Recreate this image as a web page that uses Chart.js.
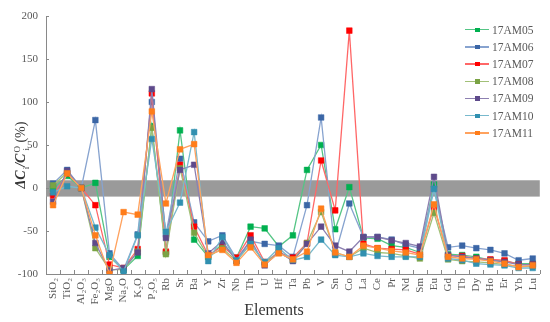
<!DOCTYPE html>
<html>
<head>
<meta charset="utf-8">
<script src="https://cdn.jsdelivr.net/npm/chart.js@4"></script>
<style>
  body { margin: 0; background: #fff; }
  #wrap { position: relative; width: 550px; height: 322px; font-family: "Liberation Serif", "Times New Roman", serif; color: #595959; }
  #c { position: absolute; left: 0; top: 0; }
  #xt { position: absolute; left: 224px; width: 100px; top: 301px; text-align: center; font-size: 16px; color: #333; }
  #yt { position: absolute; left: -29px; top: 145px; width: 100px; text-align: center; font-size: 14px; color: #333;
        transform: rotate(-90deg); transform-origin: 50% 50%; line-height: 20px; white-space: nowrap; }
  #yt i { font-weight: bold; }
  #yt .st { display: inline-flex; flex-direction: column; vertical-align: middle; font-size: 9px; line-height: 9px; margin-left: 1px; }
  #leg { position: absolute; left: 465px; top: 21px; font-size: 11.5px; }
  .row { display: flex; align-items: center; height: 17.2px; }
  .sw { position: relative; width: 24px; height: 10px; margin-right: 3px; }
  .sw .ln { position: absolute; left: 0; right: 0; top: 4.5px; height: 1.3px; }
  .sw .mk { position: absolute; left: 10px; top: 3px; width: 4.5px; height: 4.5px; }
</style>
</head>
<body>
<div id="wrap">
  <canvas id="c" width="550" height="322"></canvas>
  <div id="yt"><i>ΔC</i><span class="st"><span>&nbsp;</span><span>i</span></span><i>/C</i><span class="st"><span>O</span><span>i</span></span>&nbsp;(%)</div>
  <div id="xt">Elements</div>
  <div id="leg"></div>
</div>
<script>
const elements = ["SiO₂", "TiO₂", "Al₂O₃", "Fe₂O₃", "MgO", "Na₂O", "K₂O", "P₂O₅", "Rb", "Sr", "Ba", "Y", "Zr", "Nb",
  "Th", "U", "Hf", "Ta", "Pb", "V", "Sn", "Co", "La", "Ce", "Pr", "Nd", "Sm", "Eu", "Gd", "Tb", "Dy", "Ho", "Er", "Yb", "Lu"];

const am05 = [-1, 14, 0, 6, -80, -95, -79, 72, -75, 67, -60, -80, -65, -81, -45, -47, -68, -55, 21, 50,
  -48, 1, -58, -59, -67, -69, -75, 4, -77, -78, -80, -84, -85, -88, -88];
const am06 = [5, 21, 0, 79, -76, -95, -54, 100, -54, 34, -40, -62, -55, -82, -62, -65, -67, -80, -20, 82,
  -77, -18, -57, -57, -60, -66, -70, -1, -69, -67, -70, -72, -76, -84, -82];
const am07 = [-9, 17, 0, -20, -89, -93, -71, 110, -74, 27, -45, -78, -68, -81, -55, -86, -75, -81, -64, 32,
  -26, 183, -65, -70, -71, -72, -77, -22, -79, -79, -82, -83, -84, -89, -89];
const am08 = [3, 18, 0, -70, -95, -95, -74, 70, -77, 23, -52, -80, -70, -85, -65, -87, -75, -84, -64, -28,
  -75, -80, -70, -75, -76, -79, -82, -29, -83, -85, -86, -87, -89, -91, -91];
const am09 = [-16, 20, 0, -64, -96, -93, -75, 115, -58, 21, 27, -76, -62, -85, -60, -90, -74, -85, -65, -45,
  -67, -74, -57, -57, -61, -64, -68, 13, -78, -80, -82, -84, -86, -89, -89];
const am10 = [-5, 2, 0, -46, -78, -97, -55, 57, -51, -17, 65, -85, -57, -84, -65, -86, -70, -84, -80, -60,
  -78, -80, -76, -79, -80, -80, -80, -1, -82, -84, -88, -89, -90, -93, -93];
const am11 = [-20, 17, 0, -55, -100, -28, -31, 89, -18, 45, 51, -78, -72, -87, -69, -89, -76, -83, -74, -24,
  -75, -80, -67, -70, -73, -75, -78, -19, -80, -82, -83, -85, -88, -92, -90];

const yTicks = [-100, -50, 0, 50, 100, 150, 200];
const band = [-10, 9];

const series = [
  { label: "17AM05", data: am05, mark: "#00b050", line: "#55c585" },
  { label: "17AM06", data: am06, mark: "#3b66a6", line: "#87a3cf" },
  { label: "17AM07", data: am07, mark: "#ff0000", line: "#ff6767" },
  { label: "17AM08", data: am08, mark: "#7aa344", line: "#a2c078" },
  { label: "17AM09", data: am09, mark: "#5e4a8b", line: "#8d80b1" },
  { label: "17AM10", data: am10, mark: "#3190b0", line: "#78b9cd" },
  { label: "17AM11", data: am11, mark: "#ff7d1a", line: "#ffa25e" },
];

const AXIS = "#898989";
const tickFont = { family: "Liberation Serif", size: 11 };

// grey +-10 % band behind the lines
const bandPlugin = {
  id: "band",
  beforeDatasetsDraw(chart) {
    const { ctx, chartArea: a, scales: { y } } = chart;
    const t = y.getPixelForValue(band[1]), b = y.getPixelForValue(band[0]);
    ctx.save();
    ctx.fillStyle = "#9a9a9a";
    ctx.fillRect(a.left, t, a.right - a.left, b - t);
    ctx.restore();
  },
};

// short inward tick marks like the original
const tickPlugin = {
  id: "inTicks",
  afterDraw(chart) {
    const { ctx, chartArea: a, scales: { x, y } } = chart;
    const step = x.getPixelForValue(1) - x.getPixelForValue(0);
    ctx.save();
    ctx.strokeStyle = AXIS;
    ctx.lineWidth = 1;
    ctx.beginPath();
    for (let i = 0; i <= elements.length; i++) {
      const px = Math.round(x.getPixelForValue(0) - step / 2 + i * step) + 0.5;
      ctx.moveTo(px, a.bottom);
      ctx.lineTo(px, a.bottom - 4);
    }
    yTicks.forEach((v) => {
      const py = Math.round(y.getPixelForValue(v)) + 0.5;
      ctx.moveTo(a.left, py);
      ctx.lineTo(a.left + 3, py);
    });
    ctx.stroke();
    ctx.restore();
  },
};

new Chart(document.getElementById("c"), {
  type: "line",
  data: {
    labels: elements,
    datasets: series.map((s, i) => ({
      label: s.label, data: s.data, order: series.length - i,
      borderColor: s.line, borderWidth: 1.3, tension: 0,
      pointStyle: "rect", pointRadius: 4, pointHoverRadius: 4,
      pointBackgroundColor: s.mark, pointBorderColor: s.mark, pointBorderWidth: 0.5,
    })),
  },
  options: {
    responsive: false, animation: false, devicePixelRatio: 1,
    layout: { padding: { top: 16, right: 4, left: 0, bottom: 0 } },
    plugins: { legend: { display: false }, tooltip: { enabled: false } },
    scales: {
      x: {
        offset: true,
        grid: { display: false, drawTicks: false },
        border: { display: true, color: AXIS },
        ticks: { autoSkip: false, minRotation: 90, maxRotation: 90, padding: 4, color: "#595959", font: tickFont },
        afterFit: (s) => { s.height = 48; },
      },
      y: {
        min: -100, max: 200,
        grid: { display: false, drawTicks: false },
        border: { display: true, color: AXIS },
        ticks: { stepSize: 50, padding: 8, color: "#595959", font: tickFont },
        afterFit: (s) => { s.width = 46; },
      },
    },
  },
  plugins: [bandPlugin, tickPlugin],
});

const leg = document.getElementById("leg");
series.forEach((s) => {
  const row = document.createElement("div");
  row.className = "row";
  row.innerHTML = `<span class="sw"><span class="ln" style="background:${s.line}"></span>` +
    `<span class="mk" style="background:${s.mark}"></span></span><span>${s.label}</span>`;
  leg.appendChild(row);
});
</script>
</body>
</html>
